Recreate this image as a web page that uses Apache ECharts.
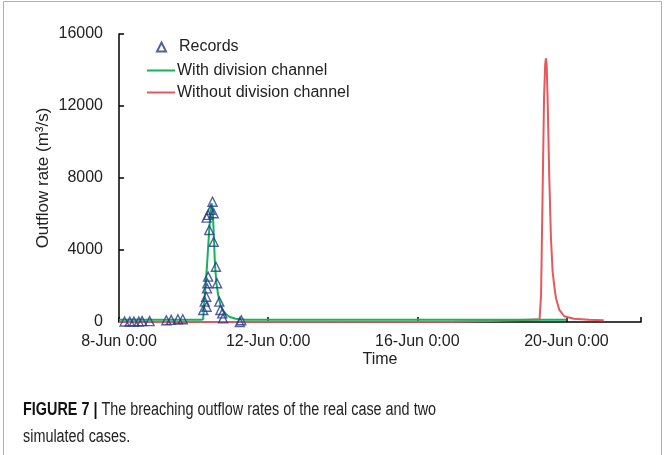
<!DOCTYPE html>
<html>
<head>
<meta charset="utf-8">
<script src="https://cdn.jsdelivr.net/npm/echarts@6/dist/echarts.min.js"></script>
<style>
html,body{margin:0;padding:0;background:#fff;}
#chart{width:665px;height:455px;}
</style>
</head>
<body>
<div id="chart"></div>
<script>
// x values: days after 8-Jun 0:00
const xTickLabels = ['8-Jun 0:00', '12-Jun 0:00', '16-Jun 0:00', '20-Jun 0:00'];
const yTicks = [0, 4000, 8000, 12000, 16000];

const recordsData = [
  [0.15, 30], [0.29, 30], [0.40, 30], [0.53, 30], [0.62, 50], [0.82, 50],
  [1.27, 100], [1.40, 120], [1.58, 150], [1.71, 150],
  [2.26, 670], [2.30, 1130], [2.34, 1400], [2.35, 850], [2.36, 1870], [2.37, 2150],
  [2.39, 2520], [2.42, 5110], [2.35, 5800], [2.39, 5950], [2.455, 6230], [2.54, 6040],
  [2.508, 6680], [2.54, 4460], [2.60, 3070], [2.63, 2150], [2.69, 1130], [2.72, 670],
  [2.77, 480], [2.79, 200],
  [3.24, 0], [3.28, 100]
];

const withChannel = [
  [0, 120], [2.20, 120], [2.257, 150], [2.30, 1500], [2.356, 3000], [2.41, 4800],
  [2.46, 6300], [2.48, 6600], [2.50, 6450], [2.52, 5900], [2.545, 4700], [2.57, 3350],
  [2.61, 2200], [2.66, 1500], [2.72, 950], [2.79, 650], [2.88, 420], [2.97, 280],
  [3.13, 180], [3.40, 130], [12.0, 130]
];

const withoutChannel = [
  [0, 0], [9.0, 10], [10.0, 60], [11.0, 130], [11.28, 150], [11.32, 1500], [11.36, 7000],
  [11.40, 12500], [11.43, 14300], [11.45, 14650], [11.47, 14300], [11.50, 12000],
  [11.54, 8000], [11.585, 4650], [11.63, 2800], [11.68, 1900], [11.72, 1320],
  [11.81, 670], [11.94, 320], [12.2, 180], [12.6, 120], [13.0, 100]
];

const FONT = 'Liberation Sans, Arial, sans-serif';
const chart = echarts.init(document.getElementById('chart'), null, {renderer: 'canvas'});
chart.setOption({
  animation: false,
  backgroundColor: '#fff',
  grid: {left: 119, right: 24, top: 34, bottom: 133, containLabel: false},
  legend: [
    {
      data: ['Records'], orient: 'vertical', left: 151, top: 34,
      itemWidth: 9, itemHeight: 9,
      textStyle: {fontFamily: FONT, fontSize: 16, color: '#222', padding: [0, 0, 0, 8]}
    },
    {
      data: [
        {name: 'With division channel', icon: 'rect'},
        {name: 'Without division channel', icon: 'rect'}
      ],
      orient: 'vertical', left: 142, top: 57, itemWidth: 28, itemHeight: 2, itemGap: 5,
      textStyle: {fontFamily: FONT, fontSize: 16, color: '#222', lineHeight: 17, padding: [0, 0, 0, -3]}
    }
  ],
  xAxis: {
    type: 'value', min: 0, max: 14, interval: 4,
    name: 'Time', nameLocation: 'middle', nameGap: 30, nameMoveOverlap: false,
    nameTextStyle: {fontFamily: FONT, fontSize: 16, color: '#222'},
    axisLine: {lineStyle: {color: '#000', width: 1.5}},
    axisTick: {inside: true, length: 5, lineStyle: {color: '#000', width: 1.5}},
    axisLabel: {
      fontFamily: FONT, fontSize: 16, color: '#222', margin: 12,
      formatter: v => xTickLabels[Math.round(v / 4)] || ''
    },
    splitLine: {show: false}
  },
  yAxis: {
    type: 'value', min: yTicks[0], max: yTicks[yTicks.length - 1], interval: 4000,
    name: 'Outflow rate (m³/s)', nameLocation: 'middle', nameGap: 67, nameMoveOverlap: false,
    nameTextStyle: {fontFamily: FONT, fontSize: 17, color: '#222'},
    axisLine: {show: true, lineStyle: {color: '#000', width: 1.5}},
    axisTick: {show: true, inside: true, length: 5, lineStyle: {color: '#000', width: 1.5}},
    axisLabel: {fontFamily: FONT, fontSize: 16, color: '#222', margin: 16, formatter: v => String(v)},
    splitLine: {show: false}
  },
  series: [
    {
      name: 'Records', type: 'scatter', data: recordsData, symbol: 'triangle', symbolSize: 9,
      itemStyle: {color: 'rgba(255,255,255,0)', borderColor: '#25398a', borderWidth: 1.4},
      z: 4
    },
    {
      name: 'With division channel', type: 'line', data: withChannel, symbol: 'none',
      lineStyle: {color: '#12b35c', width: 2}, itemStyle: {color: '#12b35c'}, z: 3
    },
    {
      name: 'Without division channel', type: 'line', data: withoutChannel, symbol: 'none',
      lineStyle: {color: '#e8575b', width: 2}, itemStyle: {color: '#e8575b'}, z: 2
    }
  ],
  graphic: [
    {
      type: 'rect', silent: true, z: -1,
      shape: {x: 3.5, y: 1.5, width: 658, height: 470},
      style: {fill: 'none', stroke: '#b0b0b0', lineWidth: 1}
    },
    {
      type: 'text', x: 23, y: 397, scaleX: 0.8, scaleY: 1,
      style: {
        text: '{b|FIGURE 7 |} The breaching outflow rates of the real case and two\nsimulated cases.',
        fontFamily: FONT,
        fontSize: 18, lineHeight: 27, fill: '#222',
        rich: {b: {fontWeight: 'bold', fontFamily: FONT, fontSize: 18, fill: '#111'}}
      }
    }
  ]
});
</script>
</body>
</html>
